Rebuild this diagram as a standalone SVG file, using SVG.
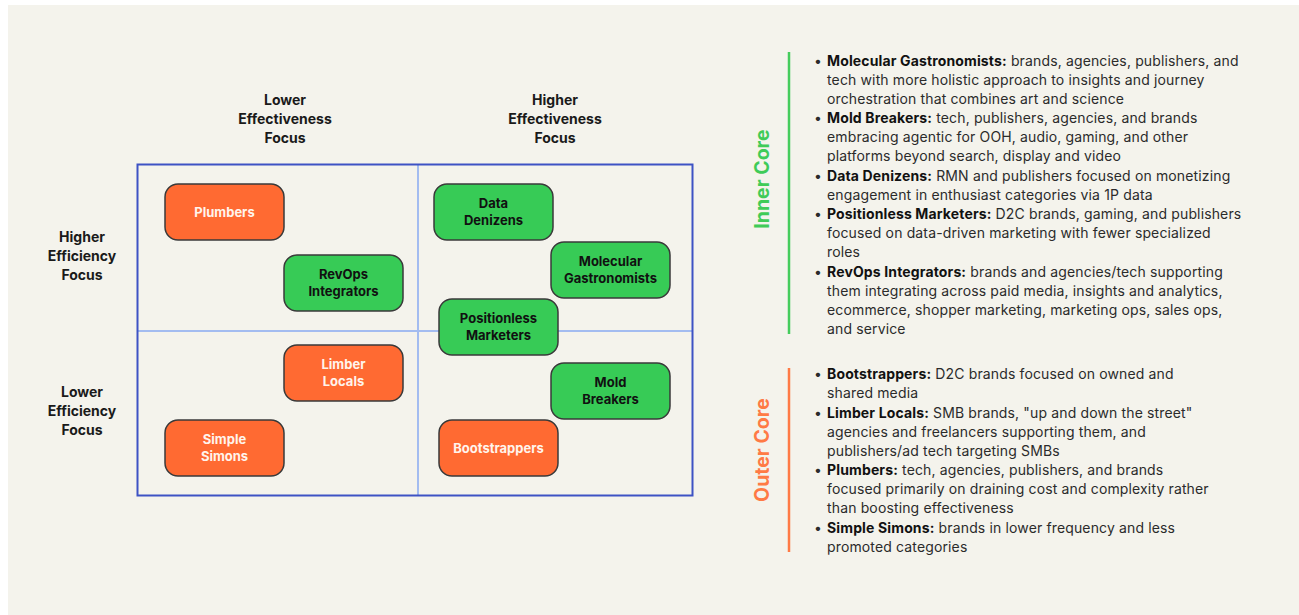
<svg xmlns="http://www.w3.org/2000/svg" width="1299" height="615" viewBox="0 0 1299 615">
  <style>
    .bg { fill: #F4F3EC; }
    .axis { font-family: Inter, "Liberation Sans", sans-serif; font-weight: 700; font-size: 14px; fill: #1A1A1A; text-anchor: middle; }
    .node rect { stroke: #3A3A3A; stroke-width: 1.5; }
    .hot rect { fill: #FF6A32; }
    .cool rect { fill: #37CB56; }
    .node text { font-family: Inter, "Liberation Sans", sans-serif; font-weight: 700; font-size: 13px; text-anchor: middle; }
    .hot text { fill: #FFF4EC; }
    .cool text { fill: #111; }
    .core { font-family: Inter, "Liberation Sans", sans-serif; font-weight: 700; font-size: 19.5px; text-anchor: middle; }
    .body { font-family: Inter, "Liberation Sans", sans-serif; font-size: 14px; letter-spacing: 0.14px; fill: #2B2B2B; }
    .body .b { font-weight: 700; fill: #111; }
  </style>

  <rect x="0" y="0" width="1299" height="615" fill="#FFFFFF"/>
  <rect class="bg" x="8" y="5" width="1291" height="610"/>

  <!-- axis headings -->
  <g id="col-lower">
    <text class="axis" x="285" y="105">Lower</text>
    <text class="axis" x="285" y="124">Effectiveness</text>
    <text class="axis" x="285" y="143">Focus</text>
  </g>
  <g id="col-higher">
    <text class="axis" x="555" y="105">Higher</text>
    <text class="axis" x="555" y="124">Effectiveness</text>
    <text class="axis" x="555" y="143">Focus</text>
  </g>
  <g id="row-higher">
    <text class="axis" x="82" y="242">Higher</text>
    <text class="axis" x="82" y="261">Efficiency</text>
    <text class="axis" x="82" y="280">Focus</text>
  </g>
  <g id="row-lower">
    <text class="axis" x="82" y="397">Lower</text>
    <text class="axis" x="82" y="416">Efficiency</text>
    <text class="axis" x="82" y="435">Focus</text>
  </g>

  <!-- quadrant grid -->
  <g id="grid">
    <line x1="138" y1="331" x2="692" y2="331" stroke="#A3BCF0" stroke-width="2"/>
    <line x1="418" y1="165" x2="418" y2="495" stroke="#A3BCF0" stroke-width="2"/>
    <rect x="137.5" y="164.5" width="555" height="331" fill="none" stroke="#3D52C4" stroke-width="2"/>
  </g>

  <!-- segments -->
  <g id="plumbers" class="node hot">
    <rect x="165" y="184" width="119" height="56" rx="13"/>
    <text x="224.5" y="216.5">Plumbers</text>
  </g>
  <g id="revops-integrators" class="node cool">
    <rect x="284" y="255" width="119" height="56" rx="13"/>
    <text x="343.5" y="279">RevOps</text>
    <text x="343.5" y="296">Integrators</text>
  </g>
  <g id="data-denizens" class="node cool">
    <rect x="434" y="184" width="119" height="56" rx="13"/>
    <text x="493.5" y="208">Data</text>
    <text x="493.5" y="225">Denizens</text>
  </g>
  <g id="molecular-gastronomists" class="node cool">
    <rect x="551" y="242" width="119" height="56" rx="13"/>
    <text x="610.5" y="266">Molecular</text>
    <text x="610.5" y="283">Gastronomists</text>
  </g>
  <g id="positionless-marketers" class="node cool">
    <rect x="439" y="299" width="119" height="56" rx="13"/>
    <text x="498.5" y="323">Positionless</text>
    <text x="498.5" y="340">Marketers</text>
  </g>
  <g id="limber-locals" class="node hot">
    <rect x="284" y="345" width="119" height="56" rx="13"/>
    <text x="343.5" y="369">Limber</text>
    <text x="343.5" y="386">Locals</text>
  </g>
  <g id="mold-breakers" class="node cool">
    <rect x="551" y="363" width="119" height="56" rx="13"/>
    <text x="610.5" y="387">Mold</text>
    <text x="610.5" y="404">Breakers</text>
  </g>
  <g id="simple-simons" class="node hot">
    <rect x="165" y="420" width="119" height="56" rx="13"/>
    <text x="224.5" y="444">Simple</text>
    <text x="224.5" y="461">Simons</text>
  </g>
  <g id="bootstrappers" class="node hot">
    <rect x="439" y="420" width="119" height="56" rx="13"/>
    <text x="498.5" y="452.5">Bootstrappers</text>
  </g>

  <!-- connectors: none drawn between segments -->
  <g id="connectors"></g>

  <!-- inner core legend -->
  <g id="inner-core">
    <line x1="789" y1="52" x2="789" y2="334" stroke="#45CC5C" stroke-width="2.5"/>
    <text class="core" fill="#3FCB58" transform="translate(769,179) rotate(-90)">Inner Core</text>
    <g class="body">
      <text x="814" y="66">•</text>
      <text x="827" y="66"><tspan class="b">Molecular Gastronomists:</tspan> brands, agencies, publishers, and</text>
      <text x="827" y="85">tech with more holistic approach to insights and journey</text>
      <text x="827" y="104">orchestration that combines art and science</text>
      <text x="814" y="123">•</text>
      <text x="827" y="123"><tspan class="b">Mold Breakers:</tspan> tech, publishers, agencies, and brands</text>
      <text x="827" y="142">embracing agentic for OOH, audio, gaming, and other</text>
      <text x="827" y="161">platforms beyond search, display and video</text>
      <text x="814" y="181">•</text>
      <text x="827" y="181"><tspan class="b">Data Denizens:</tspan> RMN and publishers focused on monetizing</text>
      <text x="827" y="200">engagement in enthusiast categories via 1P data</text>
      <text x="814" y="219">•</text>
      <text x="827" y="219"><tspan class="b">Positionless Marketers:</tspan> D2C brands, gaming, and publishers</text>
      <text x="827" y="238">focused on data-driven marketing with fewer specialized</text>
      <text x="827" y="257">roles</text>
      <text x="814" y="277">•</text>
      <text x="827" y="277"><tspan class="b">RevOps Integrators:</tspan> brands and agencies/tech supporting</text>
      <text x="827" y="296">them integrating across paid media, insights and analytics,</text>
      <text x="827" y="315">ecommerce, shopper marketing, marketing ops, sales ops,</text>
      <text x="827" y="334">and service</text>
    </g>
  </g>

  <!-- outer core legend -->
  <g id="outer-core">
    <line x1="789" y1="368" x2="789" y2="552" stroke="#FF7A45" stroke-width="2.5"/>
    <text class="core" fill="#FF7A45" transform="translate(769,450) rotate(-90)">Outer Core</text>
    <g class="body">
      <text x="814" y="379">•</text>
      <text x="827" y="379"><tspan class="b">Bootstrappers:</tspan> D2C brands focused on owned and</text>
      <text x="827" y="398">shared media</text>
      <text x="814" y="418">•</text>
      <text x="827" y="418"><tspan class="b">Limber Locals:</tspan> SMB brands, "up and down the street"</text>
      <text x="827" y="437">agencies and freelancers supporting them, and</text>
      <text x="827" y="456">publishers/ad tech targeting SMBs</text>
      <text x="814" y="475">•</text>
      <text x="827" y="475"><tspan class="b">Plumbers:</tspan> tech, agencies, publishers, and brands</text>
      <text x="827" y="494">focused primarily on draining cost and complexity rather</text>
      <text x="827" y="513">than boosting effectiveness</text>
      <text x="814" y="533">•</text>
      <text x="827" y="533"><tspan class="b">Simple Simons:</tspan> brands in lower frequency and less</text>
      <text x="827" y="552">promoted categories</text>
    </g>
  </g>
</svg>
